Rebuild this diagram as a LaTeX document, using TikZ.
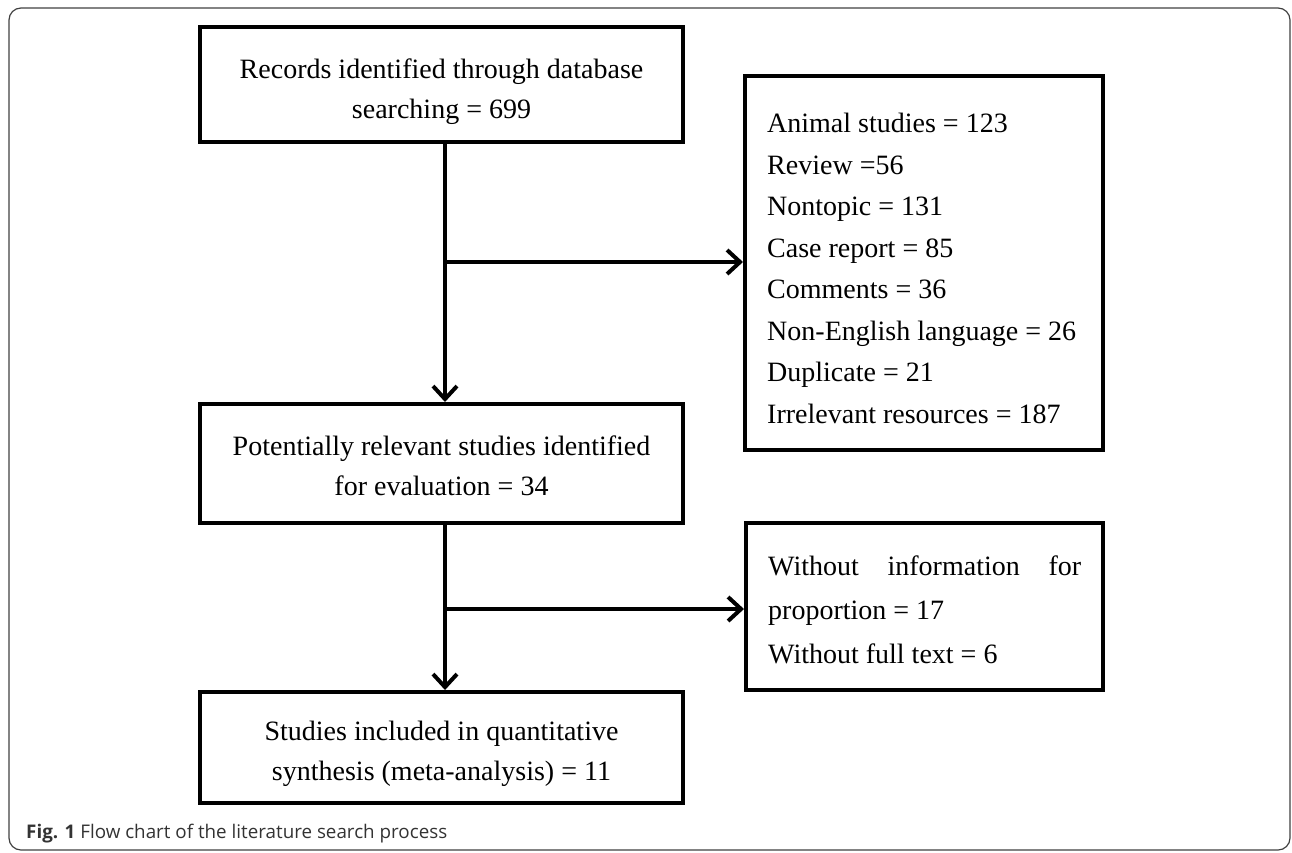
\documentclass[tikz,border=0pt]{standalone}
\usepackage{fontspec}
\setmainfont{Liberation Serif}
\newfontfamily\capfont{Open Sans}
\usetikzlibrary{arrows.meta}
\begin{document}
\begin{tikzpicture}[x=1pt,y=-1pt,
  box/.style={draw, line width=4pt, rectangle, inner sep=0pt},
  txt/.style={inner sep=0pt, font=\fontsize{28pt}{40pt}\selectfont, align=center, anchor=north},
  arr/.style={line width=4pt, -{Straight Barb[length=13pt,width=24pt,line width=4pt]}}]
\useasboundingbox (0,0) rectangle (1292,852);
\draw[line width=1.2pt, black!75, rounded corners=12pt] (9,8) rectangle (1290,850);

\node[box, minimum width=483pt, minimum height=115pt] (b1) at (441.5,84.5) {};
\node[box, minimum width=358pt, minimum height=374pt] (b2) at (924,263) {};
\node[box, minimum width=483pt, minimum height=119pt] (b3) at (441.5,463.5) {};
\node[box, minimum width=357pt, minimum height=167pt] (b4) at (924.5,606.5) {};
\node[box, minimum width=483pt, minimum height=111pt] (b5) at (441.5,747.5) {};

\node[txt] (t1) at (441.5,59) {Records identified through database\\searching = 699};
\node[txt, align=left, anchor=north west, font=\fontsize{28pt}{41.5pt}\selectfont] (t2) at (767,113)
  {Animal studies = 123\\Review =56\\Nontopic = 131\\Case report = 85\\Comments = 36\\Non-English language = 26\\Duplicate = 21\\Irrelevant resources = 187};
\node[txt] (t3) at (441.5,436) {Potentially relevant studies identified\\for evaluation = 34};
\node[txt, align=left, anchor=north west, font=\fontsize{28pt}{44pt}\selectfont] (t4) at (768,556)
  {\makebox[313pt][s]{Without information for}\\proportion = 17\\Without full text = 6};
\node[txt] (t5) at (441.5,721) {Studies included in quantitative\\synthesis (meta-analysis) = 11};

\coordinate (mx) at (445,0);
\coordinate (j1) at (445,262);
\coordinate (j2) at (445,609);
\draw[arr] (b1.south -| mx) -- (b3.north -| mx);
\draw[arr] (b3.south -| mx) -- (b5.north -| mx);
\draw[arr] (j1) -- (j1 -| b2.west);
\draw[arr] (j2) -- (j2 -| b4.west);

\node[anchor=base west, inner sep=0pt, text=black!80, font=\capfont\fontsize{18.8pt}{23pt}\selectfont] (cap) at (26,838)
  {\textbf{Fig. 1} Flow chart of the literature search process};
\end{tikzpicture}
\end{document}
